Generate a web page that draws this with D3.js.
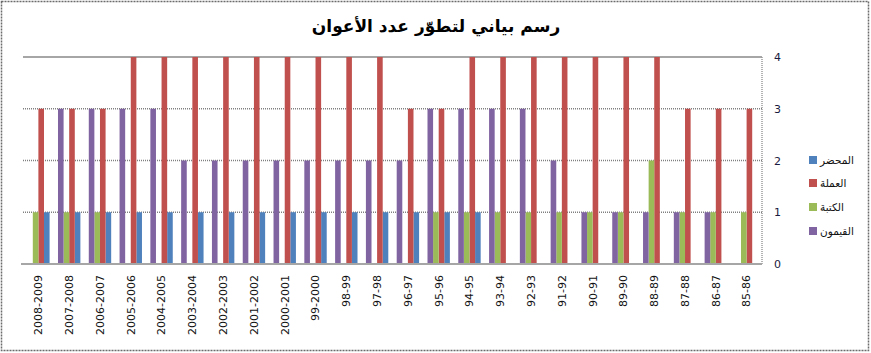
<!DOCTYPE html>
<html>
<head>
<meta charset="utf-8">
<script src="https://cdn.jsdelivr.net/npm/d3@7"></script>
<style>
  body { margin: 0; background: #fff; }
  svg { display: block; font-family: Tahoma, "DejaVu Sans", sans-serif; }
</style>
</head>
<body>
<div id="graphic"></div>
<script>
// categories, left to right as shown (reversed Excel axis)
const categories = ['2008-2009', '2007-2008', '2006-2007', '2005-2006', '2004-2005', '2003-2004',
  '2002-2003', '2001-2002', '2000-2001', '99-2000', '98-99', '97-98', '96-97', '95-96',
  '94-95', '93-94', '92-93', '91-92', '90-91', '89-90', '88-89', '87-88', '86-87', '85-86'];

const seriesNames = ['المحضر', 'العملة', 'الكتبة', 'القيمون'];

const mohdhir = [1, 1, 1, 1, 1, 1, 1, 1, 1, 1, 1, 1, 1, 1, 1, 0, 0, 0, 0, 0, 0, 0, 0, 0];
const omla    = [3, 3, 3, 4, 4, 4, 4, 4, 4, 4, 4, 4, 3, 3, 4, 4, 4, 4, 4, 4, 4, 3, 3, 3];
const katba   = [1, 1, 1, 0, 0, 0, 0, 0, 0, 0, 0, 0, 0, 1, 1, 1, 1, 1, 1, 1, 2, 1, 1, 1];
const qayyim  = [0, 3, 3, 3, 3, 2, 2, 2, 2, 2, 2, 2, 2, 3, 3, 3, 3, 2, 1, 1, 1, 1, 1, 0];

const yTicks = [0, 1, 2, 3, 4];
const titleText = 'رسم بياني لتطوّر عدد الأعوان';

const colours = ['#4F81BD', '#C0504D', '#9BBB59', '#8064A2'];

const width = 871, height = 353;
const plot = { left: 23, right: 762, top: 57, bottom: 264 };

const seriesValues = [mohdhir, omla, katba, qayyim];
const data = categories.map((c, i) => {
  const row = { cat: c };
  seriesNames.forEach((s, j) => { row[s] = seriesValues[j][i]; });
  return row;
});

const svg = d3.select('#graphic').append('svg')
  .attr('width', width)
  .attr('height', height);

// outer frame
svg.append('rect')
  .attr('x', 1.5).attr('y', 1.5)
  .attr('width', width - 4).attr('height', height - 4)
  .attr('fill', '#fff')
  .attr('stroke', '#6b6b6b')
  .attr('stroke-width', 1.5)
  .attr('stroke-dasharray', '2,1');

const x = d3.scaleBand()
  .domain(categories)
  .range([plot.left, plot.right])
  .paddingInner(0).paddingOuter(0);

// series order within a group, left to right (axis is reversed)
const x1 = d3.scaleBand()
  .domain(seriesNames.slice().reverse())
  .range([0, x.bandwidth()])
  .paddingInner(0)
  .paddingOuter(0.75);

const y = d3.scaleLinear().domain([0, 4]).range([plot.bottom, plot.top]);

const colour = d3.scaleOrdinal().domain(seriesNames).range(colours);

// gridlines + right axis labels
const yAxis = d3.axisRight(y)
  .tickValues(yTicks)
  .tickSize(0)
  .tickPadding(12)
  .tickFormat(d3.format('d'));

const grid = svg.append('g').attr('class', 'grid');
grid.selectAll('line')
  .data(yTicks.filter(d => d > 0 && d < 4))
  .join('line')
  .attr('x1', plot.left).attr('x2', plot.right)
  .attr('y1', d => y(d)).attr('y2', d => y(d))
  .attr('stroke', '#808080')
  .attr('stroke-width', 1.5)
  .attr('stroke-dasharray', '1,1');

grid.append('line')
  .attr('x1', plot.left).attr('x2', plot.right)
  .attr('y1', y(4)).attr('y2', y(4))
  .attr('stroke', '#a6a6a6').attr('stroke-width', 2);

grid.append('line')
  .attr('x1', plot.right).attr('x2', plot.right)
  .attr('y1', y(4)).attr('y2', y(0))
  .attr('stroke', '#9a9a9a').attr('stroke-width', 1.5)
  .attr('stroke-dasharray', '1,1');

// bars
svg.append('g')
  .selectAll('g')
  .data(data)
  .join('g')
  .attr('transform', d => `translate(${x(d.cat)},0)`)
  .selectAll('rect')
  .data(d => seriesNames.map(s => ({ key: s, value: d[s] })))
  .join('rect')
  .attr('x', d => x1(d.key))
  .attr('width', x1.bandwidth())
  .attr('y', d => y(d.value))
  .attr('height', d => y(0) - y(d.value))
  .attr('fill', d => colour(d.key));

// baseline
svg.append('line')
  .attr('x1', plot.left - 2).attr('x2', plot.right)
  .attr('y1', y(0)).attr('y2', y(0))
  .attr('stroke', '#a6a6a6').attr('stroke-width', 2);

const yg = svg.append('g')
  .attr('transform', `translate(${plot.right},0)`)
  .call(yAxis);
yg.select('.domain').remove();
yg.selectAll('text')
  .attr('font-size', 11)
  .attr('fill', '#1a1a40')
  .attr('font-family', 'Tahoma, "DejaVu Sans", sans-serif');

// x labels, rotated
const xAxis = d3.axisBottom(x).tickSize(0).tickPadding(0);
const xg = svg.append('g')
  .attr('transform', `translate(0,${plot.bottom})`)
  .call(xAxis);
xg.select('.domain').remove();
xg.selectAll('text')
  .attr('transform', 'rotate(-90)')
  .attr('x', -11)
  .attr('y', 0)
  .attr('dy', '0.35em')
  .attr('text-anchor', 'end')
  .attr('font-size', 11)
  .attr('fill', '#111')
  .attr('font-family', 'Tahoma, "DejaVu Sans", sans-serif');

// title
svg.append('text')
  .attr('x', 436)
  .attr('y', 32)
  .attr('text-anchor', 'middle')
  .attr('font-size', 17)
  .attr('font-weight', 'bold')
  .attr('fill', '#000')
  .attr('font-family', '"DejaVu Sans", sans-serif')
  .text(titleText);

// legend
const legendY = [160, 183, 207, 231];
const legend = svg.append('g')
  .selectAll('g')
  .data(seriesNames)
  .join('g')
  .attr('transform', (d, i) => `translate(809,${legendY[i]})`);

legend.append('rect')
  .attr('x', 0).attr('y', -4)
  .attr('width', 8).attr('height', 8)
  .attr('fill', d => colour(d));

legend.append('text')
  .attr('x', 11)
  .attr('y', 0)
  .attr('dy', '0.35em')
  .attr('font-size', 10.5)
  .attr('fill', '#111')
  .attr('font-family', '"DejaVu Sans", sans-serif')
  .text(d => d);
</script>
</body>
</html>
